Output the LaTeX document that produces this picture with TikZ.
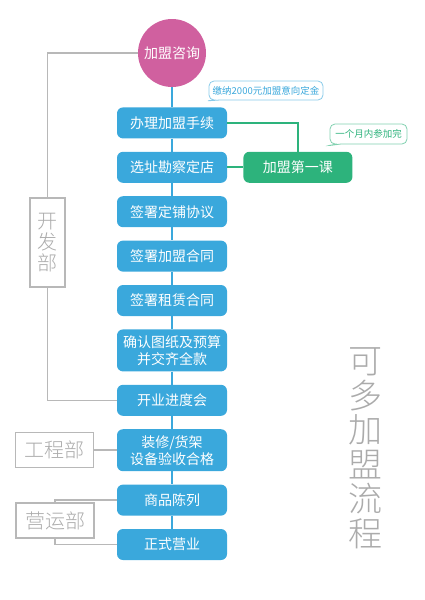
\documentclass[tikz,border=0pt]{standalone}
\usepackage{fontspec}
\setmainfont{Noto Sans CJK SC}
\newfontfamily\thinfont{Noto Sans CJK SC Light}
\usepackage{tikz}
\usetikzlibrary{arrows.meta, positioning, shapes.callouts}

\definecolor{stepblue}{HTML}{3AA8DC}
\definecolor{consultpink}{HTML}{D0609F}
\definecolor{lessongreen}{HTML}{2DB37C}
\definecolor{deptgray}{HTML}{B8B8B8}
\definecolor{titlegray}{HTML}{ABABAB}

\begin{document}
\begin{tikzpicture}[
  x=1pt, y=1pt,
  node distance=13pt,
  stepbox/.style={fill=stepblue, text=white, rounded corners=6pt, align=center,
    minimum width=110pt, minimum height=31pt, inner sep=3pt,
    font=\fontsize{14}{17}\selectfont},
  lessonbox/.style={stepbox, fill=lessongreen, minimum width=109pt},
  deptbox/.style={draw=deptgray, line width=1.3pt, text=titlegray, align=center,
    inner sep=0pt, font=\thinfont\fontsize{20}{21}\selectfont},
  notebox/.style={rectangle callout, draw, fill=white, line width=0.8pt, rounded corners=5pt,
    inner sep=0pt, callout pointer width=4pt, font=\fontsize{9.5}{10}\selectfont},
  flow/.style={stepblue, line width=2pt},
  lessonline/.style={lessongreen, line width=2pt},
  deptline/.style={deptgray, line width=1.5pt}
]
\useasboundingbox (0,0) rectangle (424,-600);

% main chain
\node[circle, fill=consultpink, text=white, minimum size=68pt, inner sep=0pt,
  font=\fontsize{14}{17}\selectfont] (consult) at (172,-53) {加盟咨询};
\node[stepbox, below=20pt of consult] (apply) {办理加盟手续};
\node[stepbox, below=of apply] (site) {选址勘察定店};
\node[stepbox, below=of site] (shop) {签署定铺协议};
\node[stepbox, below=of shop] (franchise) {签署加盟合同};
\node[stepbox, below=of franchise] (lease) {签署租赁合同};
\node[stepbox, below=of lease, minimum height=42pt] (confirm) {确认图纸及预算\\并交齐全款};
\node[stepbox, below=of confirm] (kickoff) {开业进度会};
\node[stepbox, below=of kickoff, minimum height=42pt] (fitout) {装修/货架\\设备验收合格};
\node[stepbox, below=of fitout] (display) {商品陈列};
\node[stepbox, below=of display] (open) {正式营业};

\draw[flow] (consult) -- (apply);
\draw[flow] (apply) -- (site);
\draw[flow] (site) -- (shop);
\draw[flow] (shop) -- (franchise);
\draw[flow] (franchise) -- (lease);
\draw[flow] (lease) -- (confirm);
\draw[flow] (confirm) -- (kickoff);
\draw[flow] (kickoff) -- (fitout);
\draw[flow] (fitout) -- (display);
\draw[flow] (display) -- (open);

% first lesson
\node[lessonbox, right=16pt of site] (lesson) {加盟第一课};
\draw[lessonline] (apply.east) -| (lesson.north);
\draw[lessonline] (site) -- (lesson);

% notes
\coordinate (tip1) at (205,-101);
\coordinate (tip2) at (326,-146);
\node[notebox, draw=stepblue!60, text=stepblue, minimum width=114pt, minimum height=19pt,
  callout absolute pointer={(tip1)}] (deposit) at (266,-90.5) {缴纳2000元加盟意向定金};
\node[notebox, draw=lessongreen!60, text=lessongreen, minimum width=77pt, minimum height=20pt,
  callout absolute pointer={(tip2)}] (month) at (368.5,-134) {一个月内参加完};

% departments
\node[deptbox, minimum width=35pt, minimum height=89pt] (devdept) at (47.5,-242.5) {开\\发\\部};
\node[deptbox, minimum width=78pt, minimum height=35pt, anchor=east] (engdept) at (fitout.west -| 94,0) {工程部};
\node[deptbox, minimum width=78pt, minimum height=35pt] (opsdept) at (55,-520.5) {营运部};
\draw[deptline] (consult.west) -| (devdept.north);
\draw[deptline] (devdept.south) |- (kickoff.west);
\draw[deptline] (engdept) -- (fitout);
\draw[deptline] (display.west) -| (opsdept.north);
\draw[deptline] (opsdept.south) |- (open.west);

% title
\node[text=titlegray, align=center, font=\thinfont\fontsize{34}{34.5}\selectfont] (title) at (365,-448.5)
  {可\\多\\加\\盟\\流\\程};
\end{tikzpicture}
\end{document}
